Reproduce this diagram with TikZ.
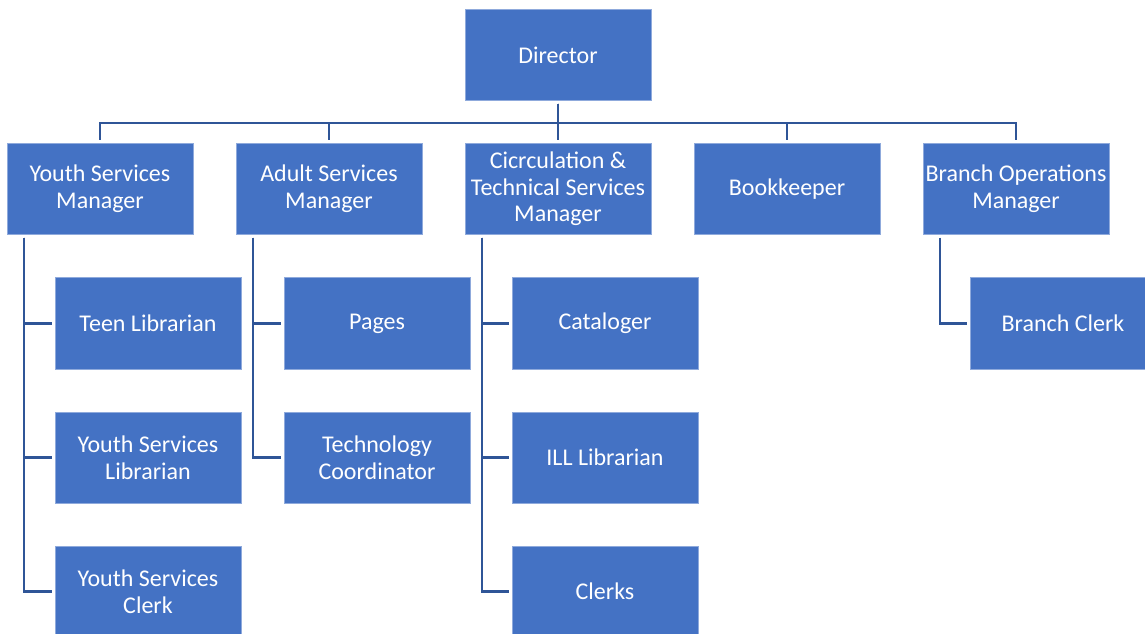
\documentclass[tikz,border=0pt]{standalone}
\usepackage{fontspec}
\setmainfont{Carlito}
\definecolor{boxblue}{HTML}{4472C4}
\definecolor{linkblue}{HTML}{2F5597}
\definecolor{edgeblue}{HTML}{8FAADC}

\begin{document}
\begin{tikzpicture}[x=0.75pt, y=-0.75pt,
  post/.style={draw=edgeblue, line width=0.5pt, fill=boxblue, text=white, align=center,
    minimum width=139.5pt, minimum height=68.5pt, outer sep=2.25pt, inner xsep=1pt,
    font=\fontsize{18}{20}\selectfont},
  link/.style={draw=linkblue, line width=1.6pt}]
  \useasboundingbox (0,0) rectangle (1145,634);
  \def\dx{229}
  \def\dy{134}
  \def\ymgr{189}
  \def\ykid{323.5}

  \node[post] (DIR) at (558, 55) {Director};

  \node[post] (YSM) at (558 - 2 * \dx, \ymgr) {Youth Services\\Manager};
  \node[post] (ASM) at (558 - 1 * \dx, \ymgr) {Adult Services\\Manager};
  \node[post] (CTS) at (558, \ymgr) {Cicrculation \&\\Technical Services\\Manager};
  \node[post] (BK) at (558 + 1 * \dx, \ymgr) {Bookkeeper};
  \node[post] (BOM) at (558 + 2 * \dx, \ymgr) {Branch Operations\\Manager};

  \node[post] (TEEN) at (148, \ykid) {Teen Librarian};
  \node[post] (YSL) at (148, \ykid + 1 * \dy) {Youth Services\\Librarian};
  \node[post] (YSC) at (148, \ykid + 2 * \dy) {Youth Services\\Clerk};

  \node[post] (PAGES) at (377, \ykid) {Pages};
  \node[post] (TECH) at (377, \ykid + 1 * \dy) {Technology\\Coordinator};

  \node[post] (CAT) at (605, \ykid) {Cataloger};
  \node[post] (ILL) at (605, \ykid + 1 * \dy) {ILL Librarian};
  \node[post] (CLERKS) at (605, \ykid + 2 * \dy) {Clerks};

  \node[post] (BCLK) at (1063, \ykid) {Branch Clerk};

  \draw[link] (DIR.south) -- ++(0, 19) -| (YSM.north);
  \draw[link] (DIR.south) -- ++(0, 19) -| (ASM.north);
  \draw[link] (DIR.south) -- (CTS.north);
  \draw[link] (DIR.south) -- ++(0, 19) -| (BK.north);
  \draw[link] (DIR.south) -- ++(0, 19) -| (BOM.north);

  \draw[link] (YSM.south west) ++(20, 0) |- (TEEN.west);
  \draw[link] (YSM.south west) ++(20, 0) |- (YSL.west);
  \draw[link] (YSM.south west) ++(20, 0) |- (YSC.west);

  \draw[link] (ASM.south west) ++(20, 0) |- (PAGES.west);
  \draw[link] (ASM.south west) ++(20, 0) |- (TECH.west);

  \draw[link] (CTS.south west) ++(20, 0) |- (CAT.west);
  \draw[link] (CTS.south west) ++(20, 0) |- (ILL.west);
  \draw[link] (CTS.south west) ++(20, 0) |- (CLERKS.west);

  \draw[link] (BOM.south west) ++(20, 0) |- (BCLK.west);
\end{tikzpicture}
\end{document}
